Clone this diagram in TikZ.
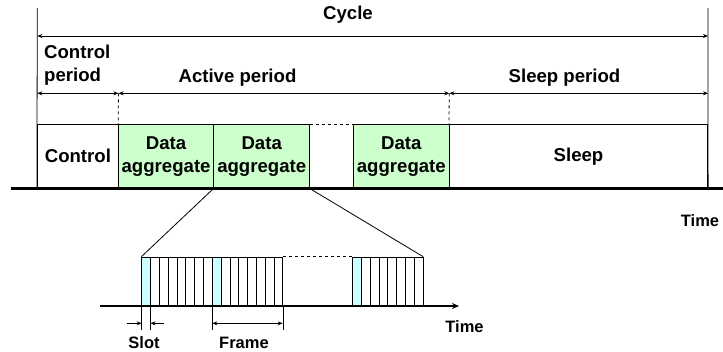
\documentclass[tikz,border=0pt]{standalone}
\usepackage{fontspec}
\setmainfont{Liberation Sans}
\usetikzlibrary{arrows.meta}
\definecolor{dgreen}{RGB}{204,255,204}
\definecolor{scyan}{RGB}{204,255,255}
\begin{document}
\begin{tikzpicture}[x=1pt,y=-1pt,
  thinline/.style={line width=0.8pt, draw=black},
  dimarrow/.style={thinline, {Stealth[length=5pt,width=4pt]}-{Stealth[length=5pt,width=4pt]}},
  onearrow/.style={thinline, -{Stealth[length=5pt,width=4pt]}},
  big/.style={font=\fontsize{18.6}{23}\selectfont\bfseries},
  small/.style={font=\fontsize{16.5}{20}\selectfont\bfseries},
  box/.style={draw, line width=0.8pt, inner sep=0pt, minimum height=64pt, align=center, big},
  databox/.style={box, fill=dgreen},
  slot/.style={draw, line width=0.6pt, minimum width=8.8pt, minimum height=49pt, inner sep=0pt},
]
\useasboundingbox (0,0) rectangle (723,351);

% boxes
\node[box, minimum width=81.2pt] (ctrl) at (77.9,156.3) {Control};
\node[databox, minimum width=95.2pt] (d1) at (166.1,156.3) {Data\\aggregate};
\node[databox, minimum width=96pt] (d2) at (261.7,156.3) {Data\\aggregate};
\node[databox, minimum width=96pt] (d3) at (401.3,156.3) {Data\\aggregate};
\node[box, minimum width=258.4pt] (sleep) at (578.5,156.3) {Sleep};
\draw[thinline, dashed] (d2.north east) -- (d3.north west);

% outer verticals
\coordinate (L) at (37.3,8);
\coordinate (R) at (708,8);
\draw[thinline] (L) -- (ctrl.south west);
\draw[thinline] (R) -- (sleep.south east);

% cycle arrow
\coordinate (cycL) at (37.3,36);
\coordinate (cycR) at (708,36);
\draw[dimarrow] (cycL) -- (cycR);
\node[big, anchor=base] (cycle) at (348,19.5) {Cycle};

% period arrows
\coordinate (pA) at (37.3,93.3);
\coordinate (pB) at (118.5,93.3);
\coordinate (pC) at (449.3,93.3);
\coordinate (pD) at (708,93.3);
\draw[dimarrow] (pA) -- (pB);
\draw[dimarrow] (pB) -- (pC);
\draw[dimarrow] (pC) -- (pD);
\draw[thinline, dashed] (pB) -- (d1.north west);
\draw[thinline, dashed] (pC) -- (sleep.north west);
\node[big, anchor=north west, inner sep=0pt, align=left] (cp) at (44,45) {Control\\period};
\node[big, anchor=base] (ap) at (237.5,82.7) {Active period};
\node[big, anchor=base] (sp) at (564.5,82.7) {Sleep period};

% baseline
\coordinate (bL) at (11,188.3);
\coordinate (bR) at (723,188.3);
\draw[line width=2.4pt] (bL) -- (bR);
\node[small] (time1) at (700,221) {Time};

% slots
\foreach \f/\x in {1/141.7, 2/212.3, 3/352.5} {
  \node[slot, fill=scyan] (f\f s0) at (\x+4.4,281.5) {};
  \foreach \i in {1,...,7} {
    \node[slot] (f\f s\i) at (\x+4.4+\i*8.8,281.5) {};
  }
}
\draw[thinline, dashed] (f2s7.north east) -- (f3s0.north west);

% zoom lines
\draw[thinline] (d2.south west) -- (f1s0.north west);
\draw[thinline] (d2.south east) -- (f3s7.north east);

% axis
\coordinate (aL) at (100,306);
\coordinate (aR) at (459,306);
\draw[line width=2pt, -{Stealth[length=7pt,width=6pt]}] (aL) -- (aR);
\node[small] (time2) at (464.5,327) {Time};

% slot dimension
\draw[thinline] (f1s0.south west) -- ++(0,24);
\draw[thinline] (f1s0.south east) -- ++(0,24);
\coordinate (slA) at (126.7,323.3);
\coordinate (slB) at (141.7,323.3);
\coordinate (slC) at (150.5,323.3);
\coordinate (slD) at (163.5,323.3);
\draw[onearrow] (slA) -- (slB);
\draw[onearrow] (slD) -- (slC);
\node[small, anchor=base, inner sep=0pt] (slot) at (144,348.5) {Slot};

% frame dimension
\draw[thinline] (f2s0.south west) -- ++(0,24);
\draw[thinline] (f2s7.south east) -- ++(0,24);
\coordinate (frA) at (212.3,323.3);
\coordinate (frB) at (282.7,323.3);
\draw[dimarrow] (frA) -- (frB);
\node[small, anchor=base, inner sep=0pt] (frame) at (244,348.5) {Frame};
\end{tikzpicture}
\end{document}
